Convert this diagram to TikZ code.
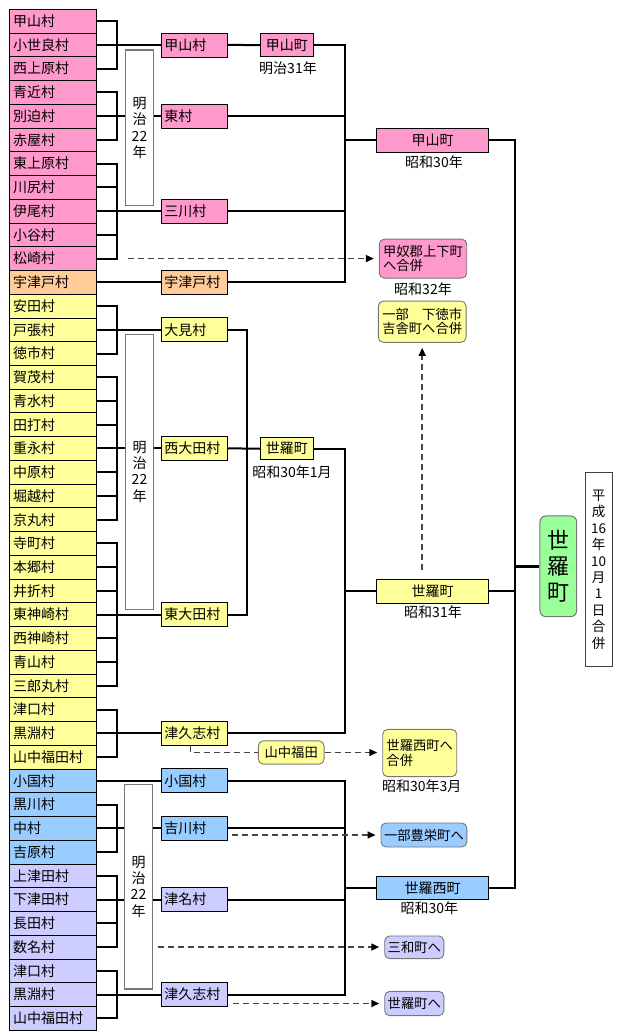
\documentclass[tikz,border=0pt]{standalone}
\usepackage{fontspec}
\setmainfont{Noto Sans CJK JP}
\usetikzlibrary{arrows.meta}
\definecolor{pk}{HTML}{FF99CC}
\definecolor{og}{HTML}{FFCC99}
\definecolor{yl}{HTML}{FFFF99}
\definecolor{bl}{HTML}{99CCFF}
\definecolor{lv}{HTML}{CCCCFF}
\definecolor{gr}{HTML}{99FF99}
\definecolor{dsgray}{HTML}{444444}
\definecolor{bdgray}{HTML}{777777}
\begin{document}
\begin{tikzpicture}[x=1pt,y=-1pt,
  font=\fontsize{14}{15}\selectfont,
  cell/.style={draw=black, line width=0.8pt, fill=#1, inner xsep=3.5pt, inner ysep=0pt,
    text width=80pt, align=left, minimum height=23.74pt, anchor=center},
  vbox/.style={draw=black, line width=0.8pt, fill=#1, inner xsep=3pt, inner ysep=0pt,
    text width=60.4pt, align=left, minimum height=24pt, anchor=center},
  town/.style={draw=black, line width=0.8pt, fill=#1, inner sep=0pt, minimum height=23.5pt, anchor=center},
  note/.style={draw=bdgray, line width=0.9pt, fill=#1, rounded corners=5pt, inner xsep=3pt, inner ysep=1pt,
    align=left, font=\fontsize{13.3}{14.5}\selectfont, anchor=center},
  lbl/.style={inner sep=0pt, anchor=center},
  meiji/.style={draw=bdgray, line width=1.2pt, fill=white, minimum width=27.6pt, inner sep=0pt,
    align=center, font=\fontsize{14}{16.3}\selectfont},
  conn/.style={line width=2pt},
  dsh/.style={draw=dsgray, line width=1.5pt, dash pattern=on 6pt off 4pt,
    -{Triangle[length=8pt,width=7pt,color=black]}, shorten >=5pt},
  dshn/.style={draw=dsgray, line width=1.5pt, dash pattern=on 6pt off 4pt}
]
\useasboundingbox (0,0) rectangle (630,1036);

% left column
\foreach \i/\t/\c in {0/甲山村/pk,1/小世良村/pk,2/西上原村/pk,3/青近村/pk,4/別迫村/pk,5/赤屋村/pk,
  6/東上原村/pk,7/川尻村/pk,8/伊尾村/pk,9/小谷村/pk,10/松崎村/pk,11/宇津戸村/og,
  12/安田村/yl,13/戸張村/yl,14/徳市村/yl,15/賀茂村/yl,16/青水村/yl,17/田打村/yl,18/重永村/yl,
  19/中原村/yl,20/堀越村/yl,21/京丸村/yl,22/寺町村/yl,23/本郷村/yl,24/井折村/yl,25/東神崎村/yl,
  26/西神崎村/yl,27/青山村/yl,28/三郎丸村/yl,29/津口村/yl,30/黒淵村/yl,31/山中福田村/yl,
  32/小国村/bl,33/黒川村/bl,34/中村/bl,35/吉原村/bl,36/上津田村/lv,37/下津田村/lv,38/長田村/lv,
  39/数名村/lv,40/津口村/lv,41/黒淵村/lv,42/山中福田村/lv}
  \node[cell=\c] (L\i) at (53,{21.17+23.74*\i}) {\t};

% vertical bar positions
\coordinate (bx) at (117,0);
\coordinate (vA) at (345,0);
\coordinate (vB) at (246.7,0);
\coordinate (vR) at (515,0);

% second column
\node[vbox=pk] (Ckozan) at (194.5,{21.17+23.74*1}) {甲山村};
\node[vbox=pk] (Chigashi) at (194.5,{21.17+23.74*4}) {東村};
\node[vbox=pk] (Cmikawa) at (194.5,{21.17+23.74*8}) {三川村};
\node[vbox=og] (Cutsudo) at (194.5,{21.17+23.74*11}) {宇津戸村};
\node[vbox=yl] (Comi) at (194.5,{21.17+23.74*13}) {大見村};
\node[vbox=yl] (Cnishiota) at (194.5,{21.17+23.74*18}) {西大田村};
\node[vbox=yl] (Chigashiota) at (194.5,{21.17+23.74*25}) {東大田村};
\node[vbox=yl] (Ctsukushia) at (194.5,{21.17+23.74*30}) {津久志村};
\node[vbox=bl] (Coguni) at (194.5,{21.17+23.74*32}) {小国村};
\node[vbox=bl] (Cyoshikawa) at (194.5,{21.17+23.74*34}) {吉川村};
\node[vbox=lv] (Ctsuna) at (194.5,{21.17+23.74*37}) {津名村};
\node[vbox=lv] (Ctsukushib) at (194.5,{21.17+23.74*41}) {津久志村};

% brackets
\begin{scope}[conn]
  \draw (L0.east) -- (L0.east -| bx) -- (L2.east -| bx) -- (L2.east);
  \draw (L1.east) -- (Ckozan.west);
  \draw (L3.east) -- (L3.east -| bx) -- (L5.east -| bx) -- (L5.east);
  \draw (L4.east) -- (Chigashi.west);
  \draw (L6.east) -- (L6.east -| bx) -- (L10.east -| bx) -- (L10.east);
  \draw (L7.east) -- (L7.east -| bx);
  \draw (L9.east) -- (L9.east -| bx);
  \draw (L8.east) -- (Cmikawa.west);
  \draw (L11.east) -- (Cutsudo.west);
  \draw (L12.east) -- (L12.east -| bx) -- (L14.east -| bx) -- (L14.east);
  \draw (L13.east) -- (Comi.west);
  \draw (L15.east) -- (L15.east -| bx) -- (L21.east -| bx) -- (L21.east);
  \foreach \k in {16,17,19,20} \draw (L\k.east) -- (L\k.east -| bx);
  \draw (L18.east) -- (Cnishiota.west);
  \draw (L22.east) -- (L22.east -| bx) -- (L28.east -| bx) -- (L28.east);
  \foreach \k in {23,24,26,27} \draw (L\k.east) -- (L\k.east -| bx);
  \draw (L25.east) -- (Chigashiota.west);
  \draw (L29.east) -- (L29.east -| bx) -- (L31.east -| bx) -- (L31.east);
  \draw (L30.east) -- (Ctsukushia.west);
  \draw (L32.east) -- (Coguni.west);
  \draw (L33.east) -- (L33.east -| bx) -- (L35.east -| bx) -- (L35.east);
  \draw (L34.east) -- (Cyoshikawa.west);
  \draw (L36.east) -- (L36.east -| bx) -- (L39.east -| bx) -- (L39.east);
  \draw (L38.east) -- (L38.east -| bx);
  \draw (L37.east) -- (Ctsuna.west);
  \draw (L40.east) -- (L40.east -| bx) -- (L42.east -| bx) -- (L42.east);
  \draw (L41.east) -- (Ctsukushib.west);
\end{scope}

% Meiji 22 boxes
\node[meiji, minimum height=155.7pt] (M1) at (139.5,127.85) {明\\治\\22\\年};
\node[meiji, minimum height=275pt] (M2) at (139.5,471.8) {明\\治\\22\\年};
\node[meiji, minimum height=204.7pt] (M3) at (138.5,886.7) {明\\治\\22\\年};

% right side towns
\node[town=pk, minimum width=53pt] (T1) at (286.8,45.1) {甲山町};
\node[lbl] (T1l) at (288,68) {明治31年};
\node[town=pk, minimum width=111.6pt] (K30) at (432.5,140.3) {甲山町};
\node[lbl] (K30l) at (434,161.7) {昭和30年};
\node[town=yl, minimum width=53pt, minimum height=22.7pt] (S30) at (286.8,448.5) {世羅町};
\node[lbl] (S30l) at (292,471.7) {昭和30年1月};
\node[town=yl, minimum width=111.6pt] (S31) at (432.5,591.3) {世羅町};
\node[lbl] (S31l) at (433,611.7) {昭和31年};
\node[town=bl, minimum width=111.6pt, minimum height=23pt] (SN) at (432.5,887.8) {世羅西町};
\node[lbl] (SNl) at (429.3,908.3) {昭和30年};

% notes
\node[note=pk, minimum width=87.4pt, minimum height=39pt] (X1) at (423,258.6) {甲奴郡上下町\\へ合併};
\node[lbl] (X1l) at (423,289.3) {昭和32年};
\node[note=yl, minimum width=87.7pt, minimum height=41.3pt] (X2) at (422.2,321.7) {一部　下徳市\\吉舎町へ合併};
\node[note=yl, minimum width=65.7pt, minimum height=23.3pt, align=center] (Y) at (291.2,752.5) {山中福田};
\node[note=yl, minimum width=74pt, minimum height=47.3pt] (X3) at (419.7,753) {世羅西町へ\\合併};
\node[lbl] (X3l) at (421.7,786) {昭和30年3月};
\node[note=bl, minimum width=84.3pt, minimum height=24pt] (X4) at (423.9,835) {一部豊栄町へ};
\node[note=lv, minimum width=56.7pt, minimum height=22.7pt] (X5) at (414.3,947.3) {三和町へ};
\node[note=lv, minimum width=56.7pt, minimum height=24.3pt] (X6) at (414.3,1003.5) {世羅町へ};

% final
\node[draw=bdgray, line width=1pt, fill=gr, rounded corners=6pt, minimum width=36.7pt, minimum height=100.7pt,
  inner sep=0pt, align=center, font=\fontsize{22}{26}\selectfont] (F) at (558.3,566.3) {世\\羅\\町};
\node[draw=black!75, line width=1pt, fill=white, minimum width=27.3pt, minimum height=194pt, inner sep=0pt,
  align=center, font=\fontsize{13.5}{16.4}\selectfont] (D) at (598.7,569.7)
  {平\\成\\16\\年\\10\\月\\1\\日\\合\\併};

% right connectors
\begin{scope}[conn]
  \draw (Ckozan.east) -- (T1.west);
  \draw (T1.east) -- (T1.east -| vA) -- (Cutsudo.east -| vA) -- (Cutsudo.east);
  \draw (Chigashi.east) -- (Chigashi.east -| vA);
  \draw (Cmikawa.east) -- (Cmikawa.east -| vA);
  \draw (K30.west -| vA) -- (K30.west);
  \draw (Comi.east) -- (Comi.east -| vB) -- (Chigashiota.east -| vB) -- (Chigashiota.east);
  \draw (Cnishiota.east) -- (S30.west);
  \draw (S30.east) -- (S30.east -| vA) -- (Ctsukushia.east -| vA) -- (Ctsukushia.east);
  \draw (S31.west -| vA) -- (S31.west);
  \draw (Coguni.east) -- (Coguni.east -| vA) -- (Ctsukushib.east -| vA) -- (Ctsukushib.east);
  \draw (Cyoshikawa.east) -- (Cyoshikawa.east -| vA);
  \draw (Ctsuna.east) -- (Ctsuna.east -| vA);
  \draw (SN.west -| vA) -- (SN.west);
  \draw (K30.east) -- (K30.east -| vR) -- (SN.east -| vR) -- (SN.east);
  \draw (S31.east) -- (S31.east -| vR);
  \draw[line width=3.2pt] (F.west -| vR) -- (F.west);
\end{scope}

% dashed connectors
\coordinate (d1) at (127.7,{21.17+23.74*10});
\draw[dsh] (d1) -- (d1 -| X1.west);
\coordinate (d2) at (422.2,570);
\draw[dsh] (d2) -- (X2.south);
\draw[dshn] ([xshift=-3.8pt]Ctsukushia.south) |- (Y.west);
\draw[dsh] (Y.east) -- (Y.east -| X3.west);
\coordinate (d4) at (231.7,835);
\draw[dsh] (d4) -- (X4.west);
\coordinate (d5) at (158.3,{21.17+23.74*39});
\draw[dsh] (d5) -- (d5 -| X5.west);
\coordinate (d6) at (233.3,1003.5);
\draw[dsh] (d6) -- (X6.west);
\end{tikzpicture}
\end{document}
